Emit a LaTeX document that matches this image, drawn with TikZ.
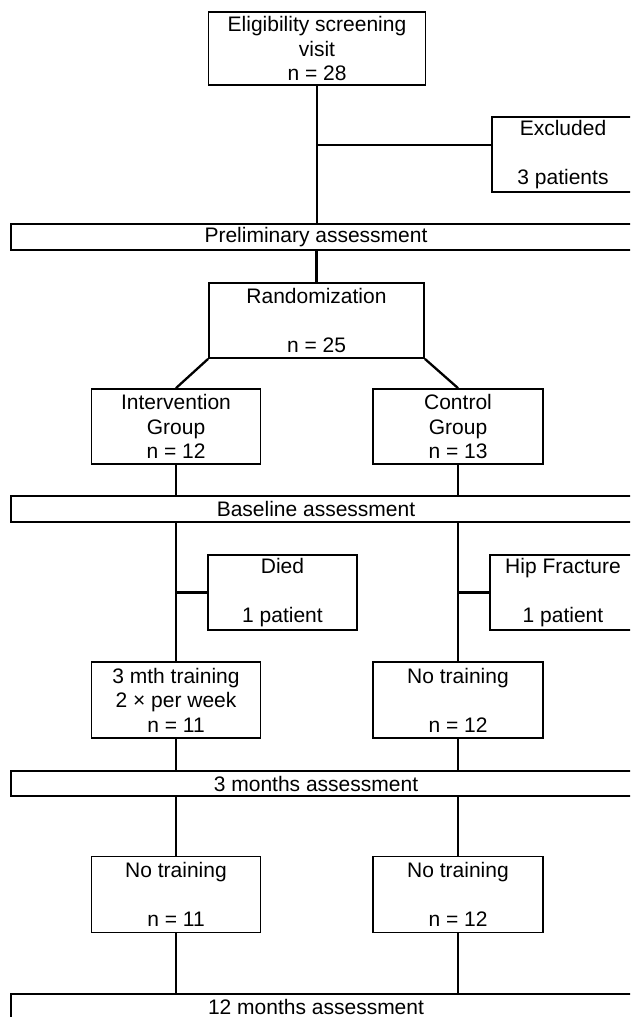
\documentclass[tikz,border=0pt]{standalone}
\usepackage{fontspec}
\setmainfont{Liberation Sans}
\usetikzlibrary{positioning,calc}

\begin{document}
\begin{tikzpicture}[x=1pt, y=-1pt,
  every node/.style={font=\fontsize{21}{24.5}\selectfont, align=center, inner sep=0pt},
  box/.style={draw, line width=1.8pt, minimum height=75pt},
  bar/.style={minimum width=610pt, minimum height=26pt},
  frame/.style={line width=1.8pt},
  lnk/.style={line width=2.3pt}
]
\useasboundingbox (0,0) rectangle (630,1017);
\clip (0,0) rectangle (630,1017);

\node[box, minimum width=217pt, minimum height=73pt] (top) at (317,48.5) {Eligibility screening\\visit\\n = 28};
\node[box, minimum width=142pt] (excl) at (563,154.5) {Excluded\\\mbox{}\\3 patients};
\node[bar] (pre) at (316,237) {Preliminary assessment};
\node[box, minimum width=215pt] (rand) at (316.5,320.5) {Randomization\\\mbox{}\\n = 25};
\node[box, minimum width=169pt] (interv) at (176,426.5) {Intervention\\Group\\n = 12};
\node[box, minimum width=170pt] (ctrl) at (458,426.5) {Control\\Group\\n = 13};
\node[bar] (base) at (316,509) {Baseline assessment};
\node[box, minimum width=149pt] (died) at (282.5,592.5) {Died\\\mbox{}\\1 patient};
\node[box, minimum width=146pt] (hip) at (563,592.5) {Hip Fracture\\\mbox{}\\1 patient};
\node[box, minimum width=169pt, minimum height=76pt] (train) at (176,700) {3 mth training\\2 × per week\\n = 11};
\node[box, minimum width=170pt, minimum height=76pt] (notr) at (458,700) {No training\\\mbox{}\\n = 12};
\node[bar, minimum height=25pt] (three) at (316,783.5) {3 months assessment};
\node[box, minimum width=169pt, minimum height=76pt] (notrA) at (176,894.5) {No training\\\mbox{}\\n = 11};
\node[box, minimum width=170pt, minimum height=76pt] (notrB) at (458,894.5) {No training\\\mbox{}\\n = 12};
\node[bar] (twelve) at (316,1007) {12 months assessment};

\foreach \b in {pre,base,three,twelve}
  \draw[frame] (\b.north west) rectangle ([xshift=60pt]\b.south east);

\coordinate (ex) at (317,145);
\draw[lnk] (top.south) -- (top.south |- pre.north);
\draw[lnk] (ex) -- (ex -| excl.west);
\draw[lnk] (rand.north |- pre.south) -- (rand.north);
\draw[lnk] (rand.south west) -- (interv.north);
\draw[lnk] (rand.south east) -- (ctrl.north);
\draw[lnk] (interv.south) -- (interv.south |- base.north);
\draw[lnk] (ctrl.south) -- (ctrl.south |- base.north);
\draw[lnk] (train.north |- base.south) -- (train.north);
\draw[lnk] (notr.north |- base.south) -- (notr.north);
\draw[lnk] (died.west -| train.north) -- (died.west);
\draw[lnk] (hip.west -| notr.north) -- (hip.west);
\draw[lnk] (train.south) -- (train.south |- three.north);
\draw[lnk] (notr.south) -- (notr.south |- three.north);
\draw[lnk] (notrA.north |- three.south) -- (notrA.north);
\draw[lnk] (notrB.north |- three.south) -- (notrB.north);
\draw[lnk] (notrA.south) -- (notrA.south |- twelve.north);
\draw[lnk] (notrB.south) -- (notrB.south |- twelve.north);
\end{tikzpicture}
\end{document}
